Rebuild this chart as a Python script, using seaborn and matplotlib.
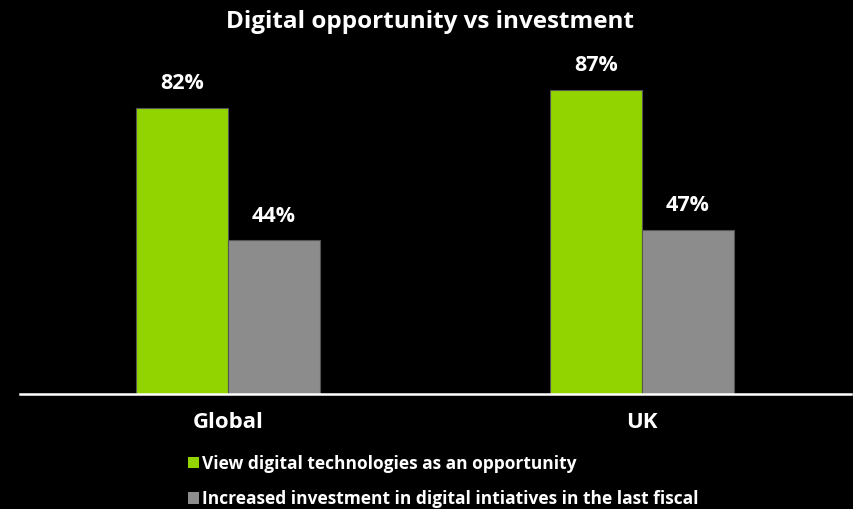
import pandas as pd
import matplotlib.pyplot as plt
import seaborn as sns
from matplotlib.patches import Patch

regions = ["Global", "UK"]
series = ["View digital technologies as an opportunity",
          "Increased investment in digital intiatives in the last fiscal"]
opportunity = [82, 87]
investment = [44, 47]
colors = ["#92D400", "#8C8C8C"]

df = pd.DataFrame({
    "region": regions * 2,
    "series": [series[0]] * 2 + [series[1]] * 2,
    "value": opportunity + investment,
})

sns.set_theme(style="white")
plt.rcParams["font.family"] = ["Open Sans", "DejaVu Sans"]

fig = plt.figure(figsize=(8.54, 5.09), dpi=100, facecolor="black")
ax = fig.add_axes([20 / 854, 115 / 509, 831 / 854, 349 / 509])
ax.set_facecolor("black")

sns.barplot(data=df, x="region", y="value", hue="series", order=regions,
            hue_order=series, palette=colors, width=0.445, ax=ax,
            legend=False, saturation=1, linewidth=0.8, edgecolor="#555555")

for c in ax.containers:
    ax.bar_label(c, labels=[f"{v:.0f}%" for v in c.datavalues], padding=10,
                 color="white", fontsize=15.5, fontweight="bold")

ax.set_ylim(0, 100)
ax.set_xlim(-0.502, 1.505)
ax.set_yticks([])
ax.set_xlabel("")
ax.set_ylabel("")
ax.tick_params(axis="x", length=0, pad=13, colors="white", labelsize=16)
for lbl in ax.get_xticklabels():
    lbl.set_fontweight("bold")
for s in ["top", "left", "right"]:
    ax.spines[s].set_visible(False)
ax.spines["bottom"].set_color("white")
ax.spines["bottom"].set_linewidth(1.8)

fig.suptitle("Digital opportunity vs investment", x=0.503, y=0.98,
             color="white", fontsize=17.5, fontweight="bold")

handles = [Patch(facecolor=col, edgecolor="none") for col in colors]
leg = fig.legend(handles, series, loc="upper left",
                 bbox_to_anchor=(172 / 854, 1 - 439 / 509), frameon=False,
                 handlelength=0.65, handleheight=0.65, handletextpad=0.2,
                 labelspacing=1.0, prop={"weight": "bold", "size": 12.5})
for t in leg.get_texts():
    t.set_color("white")

fig.savefig("out.png", dpi=100, facecolor="black")
